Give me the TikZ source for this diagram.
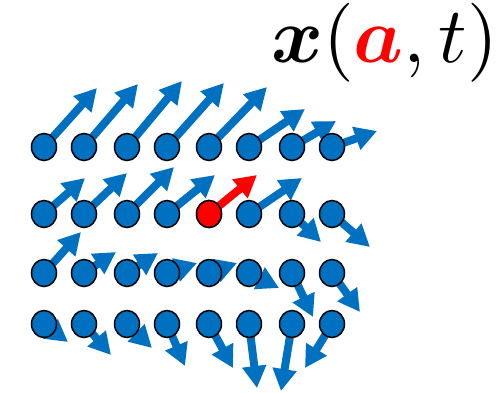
\documentclass[tikz,border=0pt]{standalone}
\usepackage{graphicx}
\usepackage{bm}
\usetikzlibrary{arrows.meta,shapes.geometric,backgrounds}
\definecolor{dotblue}{RGB}{0,112,192}
\begin{document}
\begin{tikzpicture}[x=1pt,y=-1pt,
  dot/.style={ellipse,draw=black,line width=1.5pt,fill=dotblue,minimum width=25pt,minimum height=27pt,inner sep=0pt},
  vec/.style={line width=8pt,dotblue,-{Triangle[width=23pt,length=22pt]}},
  redvec/.style={vec,red}]
\useasboundingbox (0,0) rectangle (503,392);
% dots
\foreach \x [count=\i] in {44,84,127,167,209,249,292,332}{
  \foreach \y [count=\j] in {147,214,273,324}{
    \node[dot] (c\j-\i) at (\x,\y) {};
  }
}
\node[dot,fill=red] at (c2-5) {};
% tips
\foreach \r/\c/\tx/\ty in {
 1/1/97/88, 1/2/138/84, 1/3/182/81, 1/4/224/83, 1/5/267/87, 1/6/305/109, 1/7/336/121, 1/8/377/131,
 2/1/85/178, 2/2/127/173, 2/3/174/167, 2/4/215/175, 2/5/257/175, 2/6/302/178, 2/7/321/242, 2/8/370/247,
 3/1/81/232, 3/2/116/252, 3/3/158/253, 3/4/197/263, 3/5/237/263, 3/6/279/288, 3/7/313/317, 3/8/360/312,
 4/1/68/342, 4/2/111/355, 4/3/152/348, 4/4/185/366, 4/5/233/368, 4/6/257/388, 4/7/281/391, 4/8/305/368}{
  \coordinate (t\r-\c) at (\tx,\ty);
}
\begin{scope}[on background layer]
\foreach \r in {1,...,4}{
  \foreach \c in {1,...,8}{
    \ifnum\r\c=25\relax
      \draw[redvec] (c\r-\c.center) -- (t\r-\c);
    \else
      \draw[vec] (c\r-\c.center) -- (t\r-\c);
    \fi
  }
}
\end{scope}
% label
\node[anchor=base west,inner sep=0pt] (lbl) at (271,62)
  {\scalebox{7.9}{$\bm{x}(\textcolor{red}{\bm{a}},t)$}};
\end{tikzpicture}
\end{document}
